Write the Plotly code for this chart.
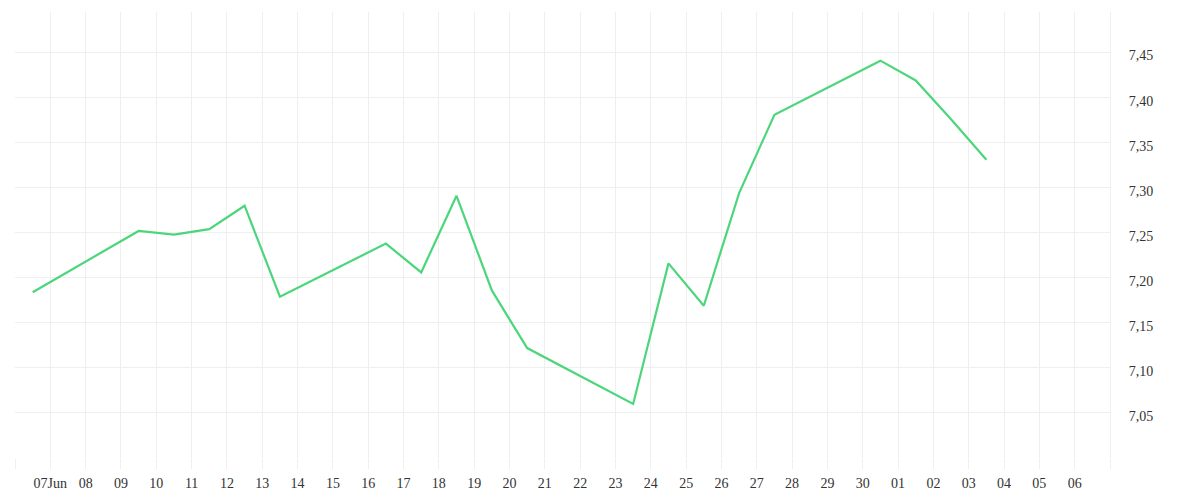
import plotly.graph_objects as go
import pandas as pd

dates = ["2025-06-06", "2025-06-09", "2025-06-10", "2025-06-11", "2025-06-12", "2025-06-13",
         "2025-06-16", "2025-06-17", "2025-06-18", "2025-06-19", "2025-06-20",
         "2025-06-23", "2025-06-24", "2025-06-25", "2025-06-26", "2025-06-27",
         "2025-06-30", "2025-07-01", "2025-07-02", "2025-07-03"]
values = [7.184, 7.252, 7.248, 7.254, 7.280, 7.179,
          7.238, 7.206, 7.291, 7.186, 7.122,
          7.060, 7.216, 7.169, 7.294, 7.381,
          7.441, 7.419, 7.376, 7.331]

x_tick_dates = pd.date_range("2025-06-06", "2025-07-07", freq="D")
x_tick_labels = [""] + ["07Jun"] + [d.strftime("%d") for d in x_tick_dates[2:-1]] + [""]

y_tick_vals = [7.00, 7.05, 7.10, 7.15, 7.20, 7.25, 7.30, 7.35, 7.40, 7.45]
y_tick_labels = ["", "7,05", "7,10", "7,15", "7,20", "7,25", "7,30", "7,35", "7,40", "7,45"]

# points are plotted at mid-day
x_pts = [pd.Timestamp(d) + pd.Timedelta(hours=12) for d in dates]

grid = "#efefef"
font = dict(family="Liberation Serif", size=14, color="#333333")

fig = go.Figure()
fig.add_trace(go.Scatter(x=x_pts, y=values, mode="lines",
                         line=dict(color="#4cd67c", width=2.2), showlegend=False))

fig.update_layout(
    width=1200, height=500,
    margin=dict(l=7, r=98, t=4, b=50, autoexpand=False),
    paper_bgcolor="white", plot_bgcolor="white",
    font=font,
    xaxis=dict(
        range=[x_tick_dates[0], x_tick_dates[-1]],
        tickmode="array", tickvals=list(x_tick_dates), ticktext=x_tick_labels,
        showgrid=True, gridcolor=grid, gridwidth=1,
        ticks="outside", ticklen=10, tickcolor=grid, tickwidth=1,
        ticklabelstandoff=2, automargin=False,
        showline=False, zeroline=False, tickfont=font,
    ),
    yaxis=dict(
        side="right", range=[7.0, 7.495],
        tickmode="array", tickvals=y_tick_vals, ticktext=y_tick_labels,
        showgrid=True, gridcolor=grid, gridwidth=1,
        ticks="", ticklabelstandoff=15, ticklabelshift=3, automargin=False,
        showline=True, linecolor=grid, linewidth=1, mirror=False,
        zeroline=False, tickfont=font,
    ),
)

fig.write_html("out.html")
